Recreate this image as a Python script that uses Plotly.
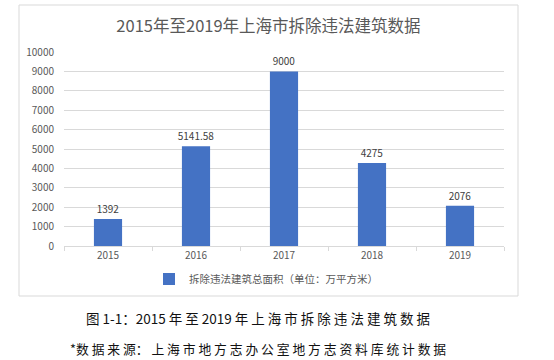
import plotly.graph_objects as go

years = ["2015", "2016", "2017", "2018", "2019"]
areas = [1392, 5141.58, 9000, 4275, 2076]
area_labels = ["1392", "5141.58", "9000", "4275", "2076"]
series_name = "拆除违法建筑总面积（单位：万平方米）"
title_text = "2015年至2019年上海市拆除违法建筑数据"
caption1 = "图 1-1：2015 年 至 2019 年 上 海 市 拆 除 违 法 建 筑 数 据"
caption2 = "*数 据 来 源： 上 海 市 地 方 志 办 公 室 地 方 志 资 料 库 统 计 数 据"

W, H = 554, 360
L, R, T, B = 64, 50, 52, 114
pw, ph = W - L - R, H - T - B

def px_x(x):
    return (x - L) / pw

def px_y(y):
    return (H - B - y) / ph

font = "Noto Sans CJK SC, Noto Sans, sans-serif"

fig = go.Figure()
fig.add_trace(go.Bar(
    x=years, y=areas, name=series_name,
    marker=dict(color="#4472C4", line=dict(width=0)),
    width=0.32,
    text=area_labels, textposition="outside", constraintext="none", textangle=0,
    textfont=dict(size=10, color="#404040"),
    cliponaxis=False,
    showlegend=True,
))

fig.update_layout(
    width=W, height=H,
    margin=dict(l=L, r=R, t=T, b=B, autoexpand=False),
    paper_bgcolor="white", plot_bgcolor="white",
    font=dict(family=font, color="#595959"),
    title=dict(text=title_text, x=268.5 / W, xanchor="center",
               y=1 - 26 / H, yanchor="middle", yref="container",
               font=dict(size=16.5, color="#595959", family=font)),
    xaxis=dict(type="category", showgrid=False, showline=True, linecolor="#d9d9d9",
               linewidth=1, ticks="outside", tickson="boundaries", ticklen=4,
               tickcolor="#d9d9d9", tickfont=dict(size=10, color="#595959"),
               zeroline=False, automargin=False),
    yaxis=dict(range=[0, 10000], dtick=1000, tickformat="d", showgrid=True, gridcolor="#d9d9d9",
               gridwidth=1, zeroline=False, showline=False,
               ticks="outside", ticklen=7, tickcolor="rgba(0,0,0,0)",
               tickfont=dict(size=10, color="#595959"), automargin=False),
    legend=dict(orientation="h", x=px_x(149), xanchor="left", y=px_y(279), yanchor="middle",
                font=dict(size=10.5, color="#595959"), itemwidth=30,
                bgcolor="rgba(0,0,0,0)"),
    bargap=0.68,
)

fig.add_shape(type="rect", xref="paper", yref="paper",
              x0=px_x(19), x1=px_x(518), y0=px_y(296), y1=px_y(5),
              line=dict(color="#d9d9d9", width=1), fillcolor="rgba(0,0,0,0)", layer="below")

fig.add_annotation(text=caption1, xref="paper", yref="paper", x=px_x(258), y=px_y(318),
                   xanchor="center", yanchor="middle", showarrow=False,
                   font=dict(size=13.5, color="#111111", family=font))
fig.add_annotation(text=caption2, xref="paper", yref="paper", x=px_x(258), y=px_y(348),
                   xanchor="center", yanchor="middle", showarrow=False,
                   font=dict(size=12.8, color="#111111", family=font))

fig.write_html("out.html", config={"displayModeBar": False},
               post_script="document.body.style.margin='0';")
